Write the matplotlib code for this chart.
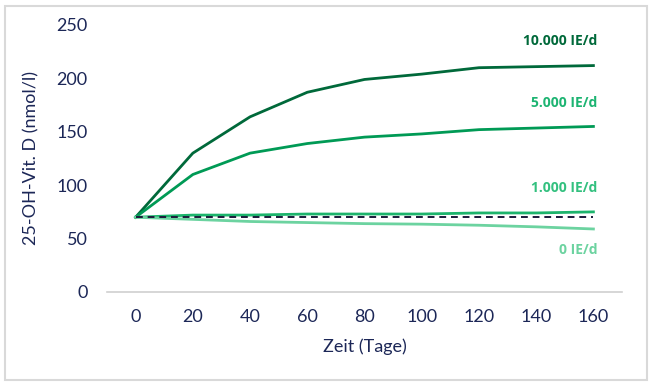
import matplotlib.pyplot as plt
from matplotlib.patches import Rectangle

# Zeitpunkte (Tage) und 25-OH-Vit. D Werte (nmol/l)
days = [0, 20, 40, 60, 80, 100, 120, 140, 160]
dose_10000 = [70, 130, 164, 187, 199, 204, 210, 211, 212]
dose_5000 = [70, 110, 130, 139, 145, 148, 152, 153.5, 155]
dose_1000 = [70, 72, 72, 73, 73, 73, 74, 74, 75]
dose_0 = [70, 68, 66, 65, 64, 63.5, 62.5, 61, 59]
baseline = [70] * len(days)

series = [
    ('10.000 IE/d', dose_10000, '#00693a', '#00693a', 18),
    ('5.000 IE/d', dose_5000, '#009a55', '#1db472', 17),
    ('1.000 IE/d', dose_1000, '#1cb46c', '#33c07f', 17),
    ('0 IE/d', dose_0, '#6cd3a0', '#6cd3a0', -15),
]

NAVY = '#1c2757'

fig = plt.figure(figsize=(6.54, 3.85), dpi=100)
ax = fig.add_axes([0.1636, 0.2416, 0.7875, 0.6935])

# Rahmen um die Grafik
fig.patches.append(Rectangle((0.008, 0.013), 0.982, 0.972, transform=fig.transFigure,
                             fill=False, edgecolor='#d9d9d9', linewidth=1.5))

ax.plot(days, baseline, color='#1a1a3a', linestyle=(0, (3.5, 2.5)), linewidth=1.4, zorder=3)
for label, vals, lc, tc, dy in series:
    ax.plot(days, vals, color=lc, linewidth=2.0, zorder=2)
    ax.annotate(label, xy=(days[-1], vals[-1]), xytext=(3, dy), textcoords='offset points',
                ha='right', va='center', fontsize=10, fontweight='bold', color=tc,
                family='Open Sans')

ax.set_xlim(-10, 170)
ax.set_ylim(0, 250)
ax.set_xticks(days)
ax.set_yticks(range(0, 251, 50))
ax.tick_params(length=0, labelsize=13, labelcolor=NAVY)
ax.tick_params(axis='y', pad=14)
ax.tick_params(axis='x', pad=12)
for t in ax.get_xticklabels() + ax.get_yticklabels():
    t.set_family('Lato')

for s in ['top', 'right', 'left']:
    ax.spines[s].set_visible(False)
ax.spines['bottom'].set_color('#d0d0d0')
ax.spines['bottom'].set_linewidth(1.2)

ax.set_xlabel('Zeit (Tage)', fontsize=13, color=NAVY, family='Lato', labelpad=10)
ax.set_ylabel('25-OH-Vit. D (nmol/l)', fontsize=13, color=NAVY, family='Lato', labelpad=12)

plt.savefig('out.png', dpi=100)
